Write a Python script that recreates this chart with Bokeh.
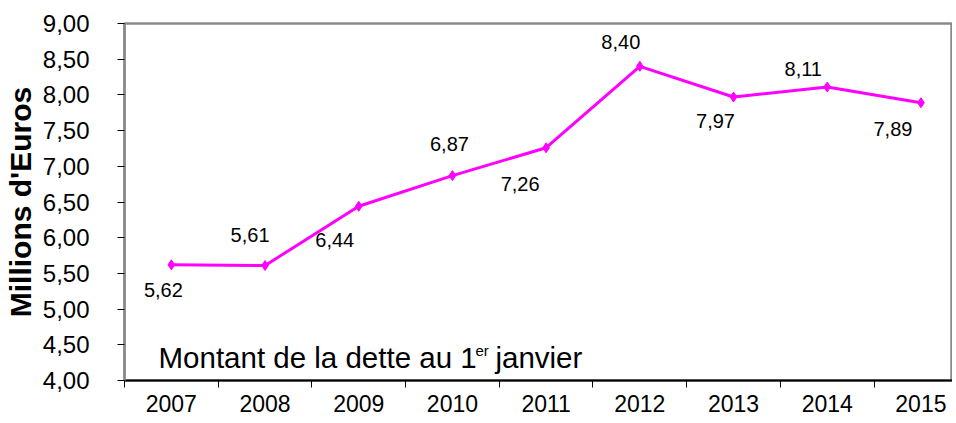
from bokeh.plotting import figure
from bokeh.models import ColumnDataSource, Range1d, FixedTicker, CustomJSTickFormatter, Label
from bokeh.core.properties import value
from bokeh.embed import file_html
from bokeh.resources import INLINE

# ---- data ----
years = ["2007", "2008", "2009", "2010", "2011", "2012", "2013", "2014", "2015"]
debt = [5.62, 5.61, 6.44, 6.87, 7.26, 8.40, 7.97, 8.11, 7.89]
y_ticks = [4.0, 4.5, 5.0, 5.5, 6.0, 6.5, 7.0, 7.5, 8.0, 8.5, 9.0]

# label placement (screen px offsets from each point)
label_dx = [-8, -15, -24, -3, -26, -19, -18, -24, -28]
label_dy = [25, -31, 34, -32, 36, -24, 24, -18, 26]

FONT = "Liberation Sans"
MAG = "#FF00FF"

idx = list(range(len(years)))
src = ColumnDataSource(dict(
    x=idx,
    y=debt,
    lab=[f"{v:.2f}".replace(".", ",") for v in debt],
    dx=label_dx,
    dy=label_dy,
))

p = figure(frame_width=828, frame_height=357, output_backend="svg", toolbar_location=None,
           x_range=Range1d(-0.5, 8.337), y_range=Range1d(4.0, 9.0),
           min_border_left=119, min_border_right=0, min_border_top=23,
           min_border_bottom=41)
p.xgrid.visible = False
p.ygrid.visible = False
p.background_fill_color = "white"
p.border_fill_color = "white"
p.outline_line_color = "#8a8a8a"
p.outline_line_width = 2.5

# y axis
ya = p.yaxis[0]
ya.ticker = FixedTicker(ticks=y_ticks)
ya.formatter = CustomJSTickFormatter(code="return tick.toFixed(2).replace('.', ',');")
ya.axis_line_color = "#8a8a8a"
ya.axis_line_width = 2.5
ya.major_tick_line_color = "black"
ya.major_tick_out = 7
ya.major_tick_in = 0
ya.minor_tick_line_color = None
ya.major_label_standoff = 28
ya.major_label_text_font = FONT
ya.major_label_text_font_size = "24px"
ya.major_label_text_color = "black"
ya.axis_label = "Millions d'Euros"
ya.axis_label_text_font = FONT
ya.axis_label_text_font_size = "30px"
ya.axis_label_text_font_style = "bold"
ya.axis_label_text_color = "black"
ya.axis_label_standoff = 3

# x axis: labels at category centres, tick marks between categories
xa = p.xaxis[0]
xa.ticker = FixedTicker(ticks=idx, minor_ticks=[i - 0.5 for i in range(len(years) + 1)])
xa.major_label_overrides = {i: y for i, y in zip(idx, years)}
xa.major_tick_line_color = None
xa.major_tick_out = 0
xa.major_tick_in = 0
xa.minor_tick_line_color = "black"
xa.minor_tick_out = 7
xa.minor_tick_in = 0
xa.axis_line_color = "black"
xa.axis_line_width = 2
xa.major_label_standoff = 7
xa.major_label_text_font = FONT
xa.major_label_text_font_size = "23px"
xa.major_label_text_color = "black"

# series
p.line("x", "y", source=src, line_color=MAG, line_width=3)
p.scatter("x", "y", source=src, marker="diamond", size=10, fill_color=MAG, line_color=MAG)

p.text("x", "y", text="lab", source=src, x_offset="dx", y_offset="dy",
       text_align="center", text_baseline="middle",
       text_font_size="20px", text_font=value(FONT), text_color="black")

# annotation with superscript
p.add_layout(Label(x=-0.137, y=4.32, text="Montant de la dette au 1",
                   text_font=FONT, text_font_size="29.5px", text_color="black",
                   text_baseline="alphabetic"))
p.add_layout(Label(x=3.246, y=4.42, text="er",
                   text_font=FONT, text_font_size="15px", text_color="black",
                   text_baseline="alphabetic"))
p.add_layout(Label(x=3.459, y=4.32, text="janvier",
                   text_font=FONT, text_font_size="29.5px", text_color="black",
                   text_baseline="alphabetic"))

open("out.html", "w").write(file_html(p, INLINE))
